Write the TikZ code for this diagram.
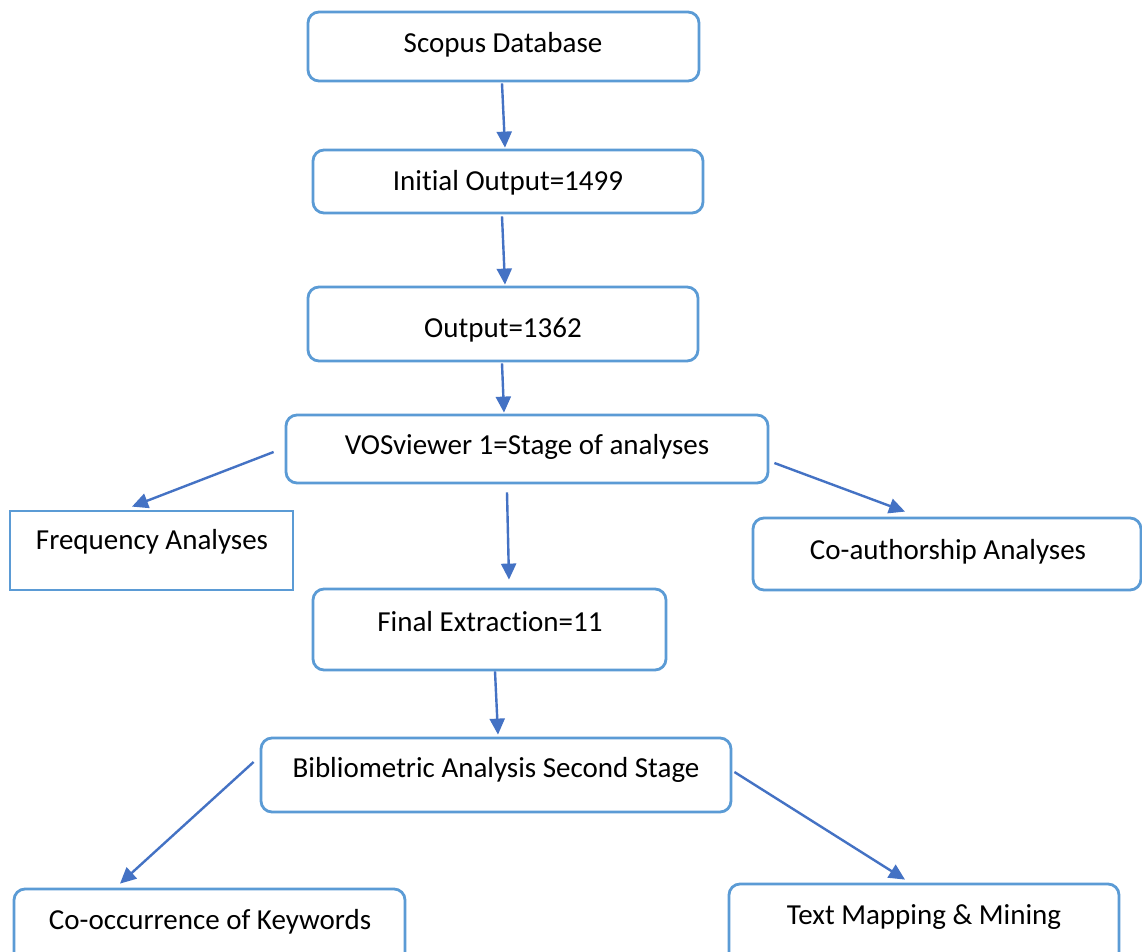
\documentclass[tikz,border=0pt]{standalone}
\usepackage{fontspec}
\setmainfont{Carlito}[Ligatures={NoCommon}]
\usetikzlibrary{arrows.meta,calc}
\definecolor{boxblue}{HTML}{5B9BD5}
\definecolor{arrblue}{HTML}{4472C4}
\begin{document}
\begin{tikzpicture}[x=1pt,y=-1pt,
  rbox/.style={draw=boxblue,line width=2.8pt,rounded corners=11pt,inner sep=0pt},
  sbox/.style={draw=boxblue,line width=2.8pt,inner sep=0pt},
  lbl/.style={inner sep=0pt,font=\fontsize{29}{34}\selectfont},
  arr/.style={draw=arrblue,line width=2.4pt,-{Triangle[length=16pt,width=15pt]}}]
\useasboundingbox[fill=white] (0,0) rectangle (1142,952);
% boxes
\node[rbox,minimum width=391pt,minimum height=69pt] (b1) at (503.5,46.5) {};
\node[rbox,minimum width=390pt,minimum height=63pt] (b2) at (508,181.5) {};
\node[rbox,minimum width=390pt,minimum height=74pt] (b3) at (503,324) {};
\node[rbox,minimum width=482pt,minimum height=68pt] (b4) at (527,449) {};
\node[sbox,minimum width=283pt,minimum height=79pt] (b5) at (151.5,550.5) {};
\node[rbox,minimum width=388pt,minimum height=72pt] (b6) at (947,554) {};
\node[rbox,minimum width=353pt,minimum height=81pt] (b7) at (489.5,629.5) {};
\node[rbox,minimum width=470pt,minimum height=74pt] (b8) at (496,775) {};
\node[rbox,minimum width=391pt,minimum height=80pt] (b9) at (209.5,929) {};
\node[rbox,minimum width=390pt,minimum height=84pt] (b10) at (924,926) {};
% texts
\node[lbl] (t1) at (503,45) {Scopus Database};
\node[lbl] (t2) at (508,183) {Initial Output=1499};
\node[lbl] (t3) at (503,330) {Output=1362};
\node[lbl] (t4) at (527,447) {VOSviewer 1=Stage of analyses};
\node[lbl] (t5) at (152,542) {Frequency Analyses};
\node[lbl] (t6) at (948,552) {Co-authorship Analyses};
\node[lbl] (t7) at (490,622) {Final Extraction=11};
\node[lbl] (t8) at (496,770) {Bibliometric Analysis Second Stage};
\node[lbl] (t9) at (210,922) {Co-occurrence of Keywords};
\node[lbl] (t10) at (924,917) {Text Mapping \& Mining};
% connectors
\draw[arr] ($(b1.south)+(-1.5,1)$) -- ($(b2.north)+(-3,-1)$);
\draw[arr] ($(b2.south)+(-6,2)$) -- ($(b3.north)+(2,-1)$);
\draw[arr] ($(b3.south)+(-1,1)$) -- ($(b4.north)+(-23,-1)$);
\draw[arr] ($(b4.west)+(-11,3)$) -- ($(b5.north)+(-19.5,-3)$);
\draw[arr] ($(b4.east)+(5,14)$) -- ($(b6.north)+(-42,-5)$);
\draw[arr] ($(b4.south)+(-20,8)$) -- ($(b7.north)+(19.5,-8)$);
\draw[arr] ($(b7.south)+(5.5,0)$) -- ($(b8.north)+(2,-2)$);
\draw[arr] ($(b8.west)+(-6,-13)$) -- ($(b9.north)+(-89.5,-4)$);
\draw[arr] ($(b8.east)+(2,-3)$) -- ($(b10.north)+(-19,-3)$);
\end{tikzpicture}
\end{document}
